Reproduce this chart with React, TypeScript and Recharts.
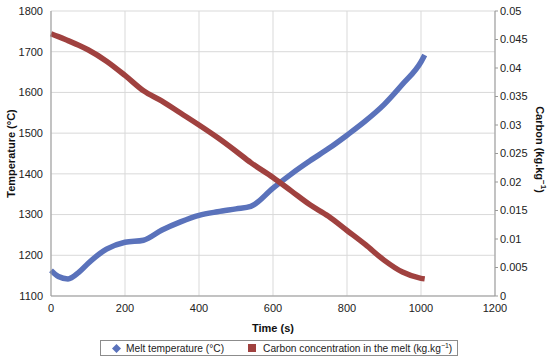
import { ComposedChart, Line, XAxis, YAxis, CartesianGrid } from 'recharts';

// 时间 (s)
const times = [0, 20, 46, 75, 100, 150, 200, 250, 300, 350, 400, 450, 500, 540, 600, 650, 700, 750, 800, 850, 900, 950, 1000, 1010];
// Melt temperature (°C)
const meltTemp = [1163, 1148, 1142, 1158, 1180, 1215, 1232, 1237, 1262, 1282, 1298, 1307, 1314, 1320, 1365, 1400, 1432, 1462, 1495, 1530, 1570, 1620, 1675, 1692];
// Carbon concentration (kg.kg-1)
const carbon = [0.046, 0.0455, 0.0448, 0.044, 0.0432, 0.0412, 0.0387, 0.036, 0.0342, 0.0321, 0.03, 0.0278, 0.0254, 0.0234, 0.0208, 0.0184, 0.016, 0.014, 0.0115, 0.009, 0.0063, 0.0042, 0.0031, 0.003];

const xTicks = [0, 200, 400, 600, 800, 1000, 1200];
const tempTicks = [1100, 1200, 1300, 1400, 1500, 1600, 1700, 1800];
const carbonTicks = [0, 0.005, 0.01, 0.015, 0.02, 0.025, 0.03, 0.035, 0.04, 0.045, 0.05];

const BLUE = '#5a72bb';
const RED = '#a0413f';
const FONT = "'Liberation Sans', Arial, sans-serif";

const data = times.map((t, i) => ({ t, temp: meltTemp[i], carbon: carbon[i] }));

const tickStyle = { fill: '#222', fontSize: 11, fontFamily: FONT };

const LegendBox = () => (
  <div
    style={{
      position: 'absolute',
      left: 100,
      top: 340,
      display: 'flex',
      alignItems: 'center',
      border: '1px solid #8c8c8c',
      height: 16,
      width: 358,
      boxSizing: 'border-box',
      fontFamily: FONT,
      fontSize: 10.2,
      color: '#222',
      background: '#fff',
      whiteSpace: 'nowrap',
    }}
  >
    <svg width={9} height={9} style={{ marginLeft: 11, marginRight: 5, flexShrink: 0 }}>
      <polygon points="4.5,0 9,4.5 4.5,9 0,4.5" fill={BLUE} />
    </svg>
    <span>Melt temperature (°C)</span>
    <svg width={8} height={8} style={{ marginLeft: 24, marginRight: 7, flexShrink: 0 }}>
      <rect x={0} y={0} width={8} height={8} fill={RED} />
    </svg>
    <span>
      Carbon concentration in the melt (kg.kg<sup style={{ fontSize: 7, lineHeight: 0 }}>−1</sup>)
    </span>
  </div>
);

export default function App() {
  return (
    <div style={{ position: 'fixed', left: 0, top: 0, width: 550, height: 360, background: '#fff' }}>
      <ComposedChart width={550} height={360} data={data} margin={{ top: 11, right: 0, left: 0, bottom: 0 }}>
        <CartesianGrid yAxisId="left" stroke="#d9d9d9" />
        <XAxis
          dataKey="t"
          type="number"
          domain={[0, 1200]}
          ticks={xTicks}
          height={64}
          tick={tickStyle}
          tickLine={false}
          axisLine={{ stroke: '#999' }}
          label={{
            content: ({ viewBox }: any) => (
              <text
                x={viewBox.x + viewBox.width / 2}
                y={viewBox.y + 36}
                textAnchor="middle"
                fontFamily={FONT}
                fontSize={11}
                fontWeight="bold"
                fill="#111"
              >
                Time (s)
              </text>
            ),
          }}
        />
        <YAxis
          yAxisId="left"
          domain={[1100, 1800]}
          ticks={tempTicks}
          width={51}
          tick={tickStyle}
          tickLine={false}
          axisLine={{ stroke: '#999' }}
          label={{
            content: ({ viewBox }: any) => {
              const x = viewBox.x + 11;
              const y = viewBox.y + viewBox.height / 2;
              return (
                <text
                  x={x}
                  y={y}
                  transform={`rotate(-90 ${x} ${y})`}
                  textAnchor="middle"
                  dominantBaseline="central"
                  fontFamily={FONT}
                  fontSize={11}
                  fontWeight="bold"
                  fill="#111"
                >
                  Temperature (°C)
                </text>
              );
            },
          }}
        />
        <YAxis
          yAxisId="right"
          orientation="right"
          domain={[0, 0.05]}
          ticks={carbonTicks}
          width={55}
          tick={tickStyle}
          tickSize={3}
          tickLine={{ stroke: '#999' }}
          axisLine={{ stroke: '#999' }}
          tickFormatter={(v: number) => String(Number(v.toFixed(3)))}
          label={{
            content: ({ viewBox }: any) => {
              const x = viewBox.x + 45;
              const y = viewBox.y + viewBox.height / 2 - 4;
              return (
                <text
                  x={x}
                  y={y}
                  transform={`rotate(90 ${x} ${y})`}
                  textAnchor="middle"
                  dominantBaseline="central"
                  fontFamily={FONT}
                  fontSize={11}
                  fontWeight="bold"
                  fill="#111"
                >
                  Carbon (kg.kg<tspan dy={-4} fontSize={8}>−1</tspan><tspan dy={4}>)</tspan>
                </text>
              );
            },
          }}
        />
        <Line
          yAxisId="left"
          type="monotone"
          dataKey="temp"
          name="Melt temperature (°C)"
          stroke={BLUE}
          strokeWidth={5.5}
          dot={false}
          isAnimationActive={false}
        />
        <Line
          yAxisId="right"
          type="monotone"
          dataKey="carbon"
          name="Carbon concentration in the melt (kg.kg⁻¹)"
          stroke={RED}
          strokeWidth={5.5}
          dot={false}
          isAnimationActive={false}
        />
      </ComposedChart>
      <LegendBox />
    </div>
  );
}
